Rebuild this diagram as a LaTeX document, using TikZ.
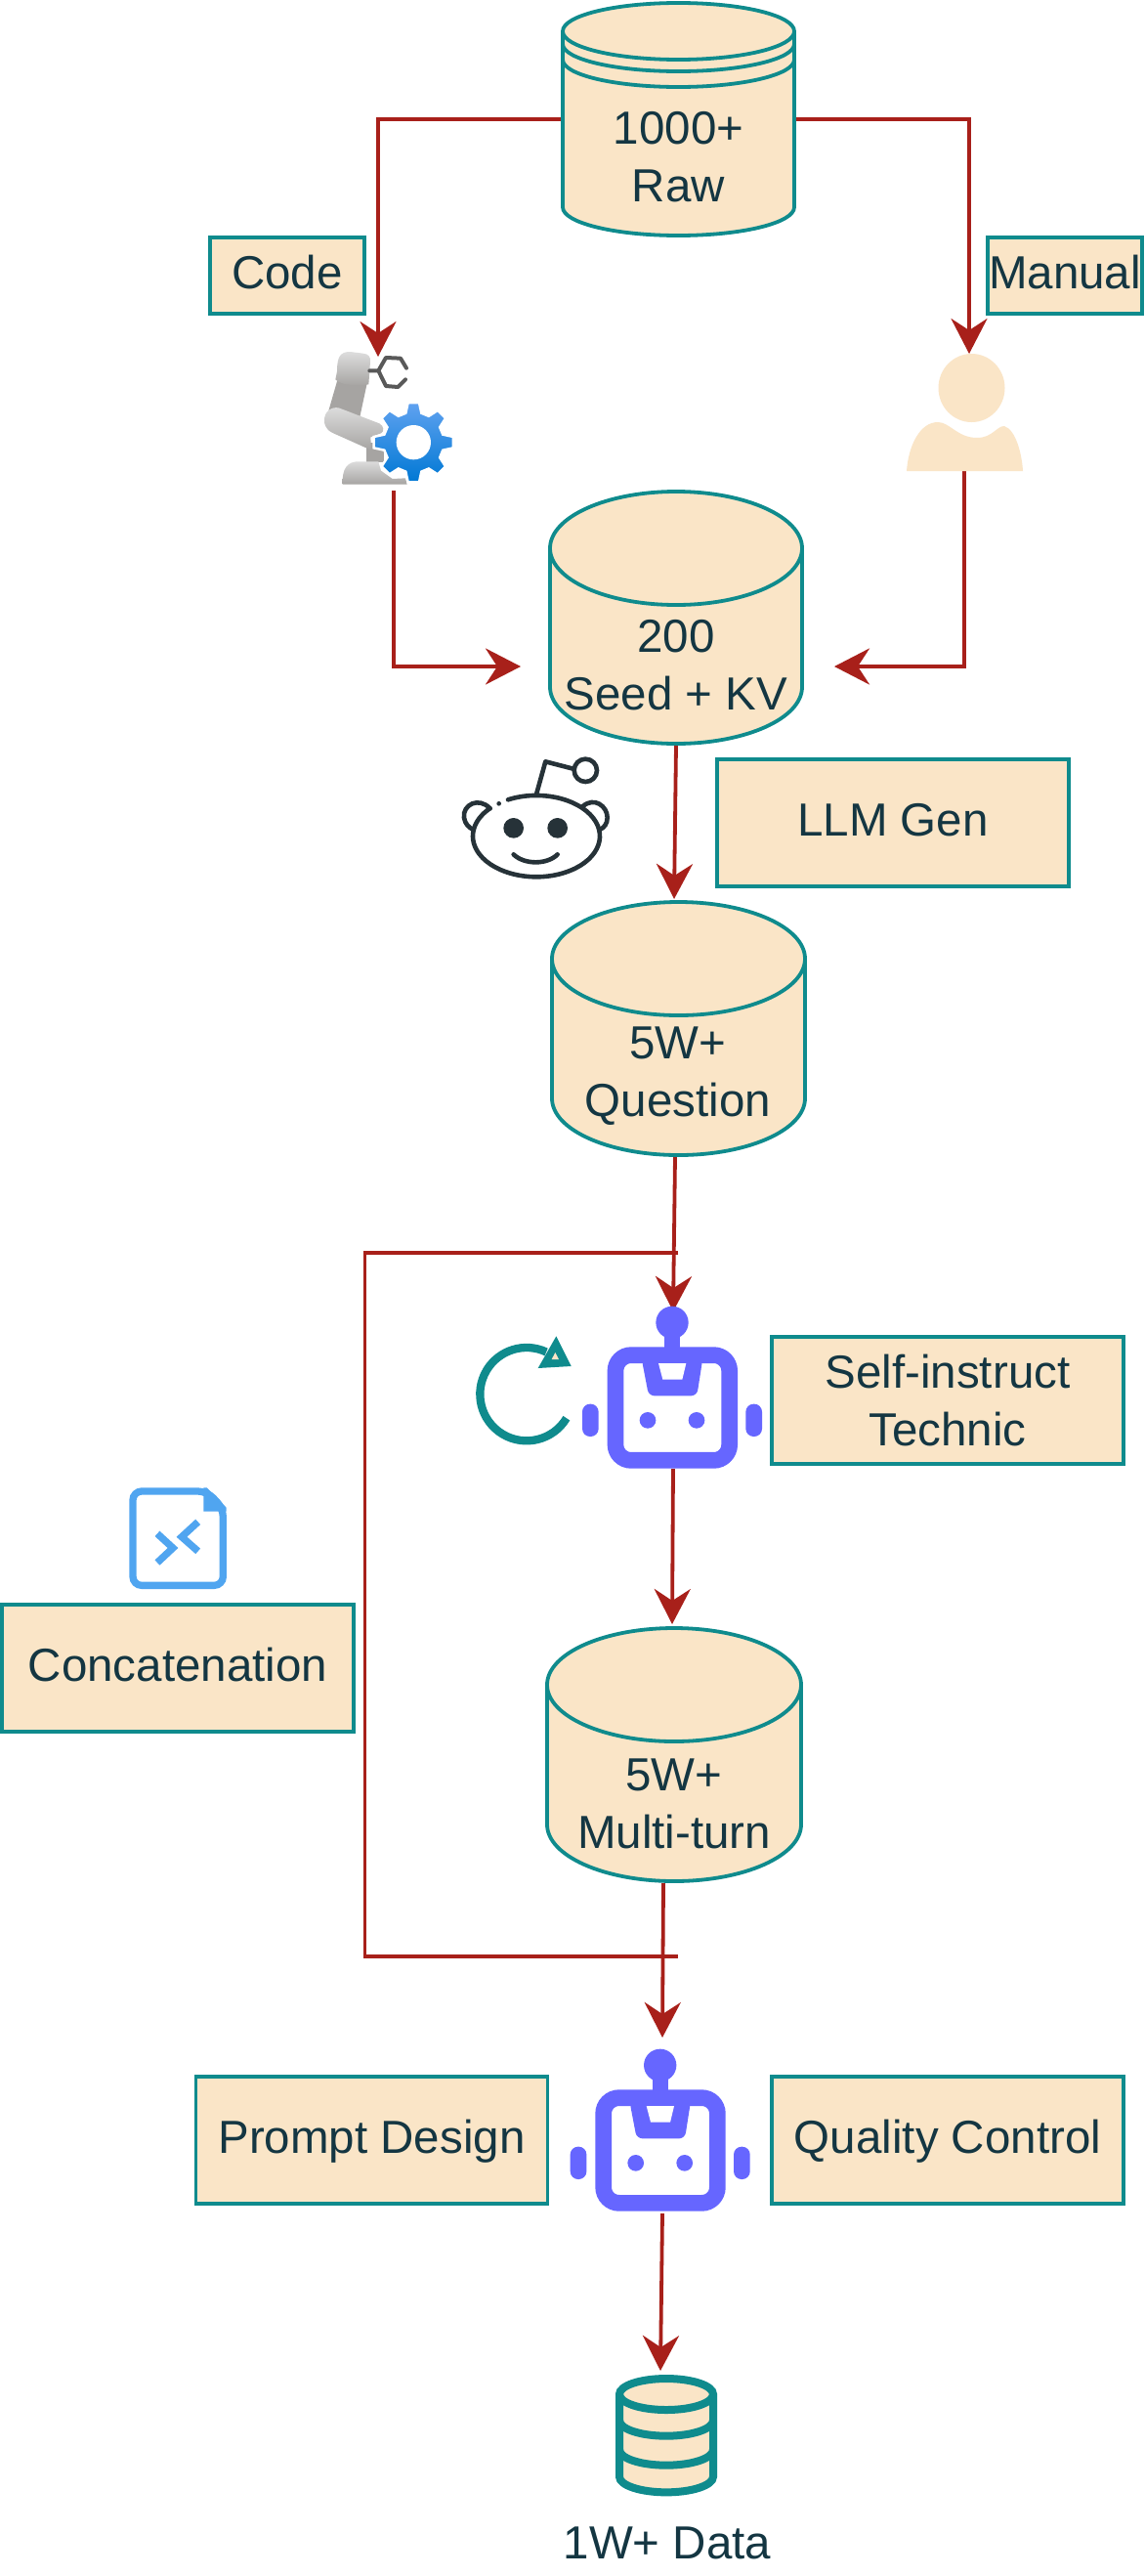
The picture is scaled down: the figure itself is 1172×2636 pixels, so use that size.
\documentclass[tikz,border=0pt]{standalone}
\usepackage{fontspec}
\setmainfont{Liberation Sans}
\usetikzlibrary{arrows.meta,calc}
\definecolor{sandfill}{HTML}{FAE5C7}
\definecolor{tealline}{HTML}{0F8B8D}
\definecolor{inkc}{HTML}{143642}
\definecolor{edgered}{HTML}{A8201A}
\definecolor{botblue}{HTML}{6666FF}
\definecolor{fileblue}{HTML}{50A5F0}
\definecolor{redditc}{HTML}{263238}
\definecolor{armlight}{HTML}{DDDDDD}
\definecolor{armdark}{HTML}{A6A4A2}
\tikzset{
  txt/.style={text=inkc,font=\fontsize{47.5}{59}\selectfont,align=center,inner sep=0pt,outer sep=0pt},
  boxn/.style={txt,draw=tealline,fill=sandfill,line width=3.8pt},
  oneline/.style={text height=38pt,text depth=12pt},
  anchorbox/.style={inner sep=0pt,outer sep=0pt,minimum width=#1},
  anchorbox/.default=10pt,
  link/.style={draw=edgered,line width=3.8pt},
  arrowlink/.style={link,-{Stealth[length=36pt,width=37pt,inset=12pt]}},
  cylstyle/.style={draw=tealline,fill=sandfill,line width=3.8pt},
}
% cylinder body: cx, top, width, height, ry
\newcommand{\cylbody}[5]{%
  \pgfmathsetmacro{\cxl}{#1-#3/2}%
  \pgfmathsetmacro{\cxr}{#1+#3/2}%
  \pgfmathsetmacro{\cyt}{#2+#5}%
  \pgfmathsetmacro{\cyb}{#2+#4-#5}%
  \pgfmathsetmacro{\crx}{#3/2}%
  \path[cylstyle] (\cxl,\cyt) -- (\cxl,\cyb) arc[start angle=180,end angle=360,x radius=\crx pt,y radius=#5pt]
     -- (\cxr,\cyt) arc[start angle=0,end angle=180,x radius=\crx pt,y radius=#5pt] -- cycle;
  \draw[tealline,line width=3.8pt] (\cxl,\cyt) arc[start angle=180,end angle=360,x radius=\crx pt,y radius=#5pt];
}
\newcommand{\robotart}[2]{%
  \begin{scope}[shift={(#1,#2)},scale=0.33333]
    \fill[botblue] (684,130) circle[radius=50pt];
    \fill[botblue] (660,160) rectangle (708,230);
    \draw[botblue,line width=16.7pt,rounded corners=16pt] (510,230) rectangle (860,553);
    \fill[botblue,rounded corners=6pt] (590,240) -- (612,355) -- (760,355) -- (778,240) -- cycle;
    \fill[white] (642,255) -- (727,255) -- (715,305) -- (655,305) -- cycle;
    \fill[botblue] (609,430) circle[radius=25pt];
    \fill[botblue] (759,430) circle[radius=25pt];
    \fill[botblue,rounded corners=8pt] (408,380) rectangle (458,480);
    \fill[botblue,rounded corners=8pt] (910,380) rectangle (960,480);
  \end{scope}
}
\begin{document}
\begin{tikzpicture}[x=1pt,y=-1pt]
\useasboundingbox (0,0) rectangle (1172,2636);
\fill[white] (0,0) rectangle (1172,2636);

% --- anchors for icons and cylinders
\node[anchorbox=262pt,minimum height=262pt] (seed) at (692,632) {};
\node[anchorbox=241pt,minimum height=242pt] (raw) at (694.5,122) {};
\node[anchorbox=263pt,minimum height=263pt] (question) at (694.5,1052.5) {};
\node[anchorbox=263pt,minimum height=263pt] (multi) at (690,1795.5) {};
\node[anchorbox=130pt,minimum height=135pt] (arm) at (387,432.5) {};
\node[anchorbox=120pt,minimum height=120pt] (person) at (992,422) {};
\node[anchorbox=230pt,minimum height=161pt] (bot1) at (689,1422.5) {};
\node[anchorbox=230pt,minimum height=180pt] (bot2) at (678,2175) {};
\node[anchorbox=100pt,minimum height=124pt] (dbicon) at (676,2488) {};
\coordinate (armout) at (403,502);
\coordinate (seedl) at (533,682);
\coordinate (seedr) at (854,682);
\coordinate (personout) at (987,482);
\coordinate (fb1) at (694,1282);
\coordinate (fb2) at (373.5,1282);
\coordinate (fb3) at (373.5,2002);
\coordinate (fb4) at (694,2002);

% --- cylinders
\cylbody{694.5}{3}{237}{238}{29}
\draw[tealline,line width=3.8pt] (576,45) arc[start angle=180,end angle=360,x radius=118.5pt,y radius=28pt];
\draw[tealline,line width=3.8pt] (576,61) arc[start angle=180,end angle=360,x radius=118.5pt,y radius=28pt];
\cylbody{692}{503}{258}{258}{58}
\cylbody{694.5}{923}{259}{259}{58}
\cylbody{690}{1666}{260}{259}{58}
\node[txt] (rawt) at (694.5,161) {1000+\\Raw};
\node[txt] (seedt) at (692,681) {200\\Seed + KV};
\node[txt] (questiont) at (694,1101.5) {5W+\\Question};
\node[txt] (multit) at (690,1846) {5W+\\Multi-turn};

% --- connectors
\draw[arrowlink] (raw.west) -| (387,365);
\draw[arrowlink] (raw.east) -| (992,362);
\draw[arrowlink] (armout) |- (seedl);
\draw[arrowlink] (personout) |- (seedr);
\draw[arrowlink] (seed.south) -- ([xshift=-4.5pt,yshift=1pt]question.north);
\draw[link] (fb1) -- (fb2) -- (fb3) -- (fb4);
\draw[arrowlink] ([xshift=-3.5pt]question.south) -- (bot1.north);
\draw[arrowlink] (bot1.south) -- ([xshift=-2pt,yshift=2pt]multi.north);
\draw[arrowlink] ([xshift=-11pt]multi.south) -- (bot2.north);
\draw[arrowlink] (bot2.south) -- (dbicon.north);

% --- boxes
\node[boxn,oneline,minimum width=158pt,minimum height=78pt] (code) at (294,282) {Code};
\node[boxn,oneline,minimum width=158pt,minimum height=78pt] (manual) at (1090,282) {Manual};
\node[boxn,oneline,minimum width=360pt,minimum height=130pt] (llm) at (914,842) {LLM Gen};
\node[boxn,minimum width=360pt,minimum height=130pt] (selfi) at (970,1433) {Self-instruct\\Technic};
\node[boxn,oneline,minimum width=360pt,minimum height=130pt] (concat) at (182,1707) {Concatenation};
\node[boxn,oneline,minimum width=360pt,minimum height=130pt] (prompt) at (380.5,2190) {Prompt Design};
\node[boxn,oneline,minimum width=360pt,minimum height=130pt] (quality) at (970,2190) {Quality Control};
\node[txt] (outt) at (683,2602) {1W+ Data};

% --- robot arm icon
\begin{scope}[shift={(300,330)},scale=0.33333]
  \fill[armdark] (138,170) -- (105,285) -- (205,290) -- (235,150) -- cycle;
  \shade[top color=armlight,bottom color=armdark] (135,150) .. controls (135,105) and (145,90) .. (175,90) -- (215,95) .. controls (232,97) and (238,105) .. (237,120) -- (232,190) .. controls (200,195) and (150,195) .. (130,175) -- cycle;
  \draw[color=black!65,line width=4pt,line join=round,line cap=round] (235,148) -- (262,148) -- (285,108) -- (330,110) -- (348,140) (262,148) -- (285,195) -- (322,198) -- (345,175);
  \fill[armdark] (225,370) rectangle (278,430);
  \shade[top color=armlight,bottom color=armdark] (96,300) .. controls (96,275) and (115,258) .. (140,262) -- (265,310) .. controls (280,318) and (280,335) .. (270,340) -- (238,352) -- (240,392) -- (135,345) .. controls (110,335) and (96,325) .. (96,300) -- cycle;
  \shade[top color=armlight,bottom color=armdark] (152,497) .. controls (150,450) and (165,425) .. (205,427) -- (262,427) -- (270,455) -- (305,480) -- (345,478) -- (350,497) -- cycle;
  \begin{scope}
    \clip (200,200) rectangle (520,497);
    \shade[top color={rgb,255:red,96;green,162;blue,240},bottom color={rgb,255:red,0;green,120;blue,212},draw=white,line width=2.5pt]
      ($(370,368)+(98:123pt)$)
      \foreach \a in {90,45,0,-45,-90,-135,-180,-225} { -- ($(370,368)+(\a-8:123pt)$) -- ($(370,368)+(\a-15:93pt)$) -- ($(370,368)+(\a-30:93pt)$) -- ($(370,368)+(\a-37:123pt)$) } -- cycle;
  \end{scope}
  \fill[white] (370,368) circle[radius=53pt];
\end{scope}

% --- person icon
\fill[sandfill] (994.5,397) ellipse[x radius=34pt,y radius=35pt];
\fill[sandfill] (928,482) .. controls (930,455) and (942,432) .. (960,432) .. controls (972,432) and (980,448) .. (1000,448) .. controls (1016,448) and (1020,436) .. (1028,436) .. controls (1040,440) and (1046,465) .. (1047,482) -- cycle;

% --- reddit icon
\begin{scope}[shift={(440,740)},scale=0.33333,redditc,line width=4.6pt,line cap=round]
  \draw (240,235) arc[start angle=116.5,end angle=-223,x radius=195pt,y radius=125pt];
  \draw (185,262) .. controls (150,225) and (100,250) .. (105,290) .. controls (108,310) and (120,320) .. (133,327);
  \draw (470,255) .. controls (505,225) and (545,255) .. (545,290) .. controls (545,310) and (535,320) .. (522,327);
  \fill (212,247) circle[radius=7pt];
  \fill (257,322) circle[radius=31pt];
  \fill (392,322) circle[radius=31pt];
  \draw (257,403) .. controls (290,435) and (360,435) .. (392,403);
  \draw[line join=round] (328,215) -- (355,118) -- (440,140);
  \draw (478,145) circle[radius=35pt];
\end{scope}

% --- robots
\robotart{460}{1310}
\robotart{447.7}{2070}

% --- loop icon
\begin{scope}[shift={(460,1310)},scale=0.33333]
  \draw[tealline,line width=8.3pt] (359.6,423.6) arc[start angle=-31,end angle=-295,radius=143pt];
  \fill[tealline] (328,172) -- (374,264) -- (272,270) -- cycle;
  \fill[sandfill] (314,243) -- (336,243) -- (325,222) -- cycle;
\end{scope}

% --- file icon
\begin{scope}[shift={(100,1500)},scale=0.33333]
  \draw[fileblue,line width=7.3pt,rounded corners=9pt] (108,78) -- (335,78) -- (385,130) -- (385,367) -- (108,367) -- cycle;
  \fill[fileblue] (325,67) -- (335,67) -- (395,128) -- (395,140) -- (325,140) -- cycle;
  \draw[fileblue,line width=7.3pt] (183,208) -- (231,252) -- (183,297);
  \draw[fileblue,line width=7.3pt] (308,172) -- (258,218) -- (308,262);
\end{scope}

% --- database icon
\begin{scope}[shift={(560,2420)},scale=0.33333]
  \path[fill=sandfill,draw=tealline,line width=8pt] (222,90) -- (222,343) arc[start angle=180,end angle=360,x radius=144pt,y radius=48pt] -- (510,90) arc[start angle=0,end angle=180,x radius=144pt,y radius=48pt] -- cycle;
  \draw[tealline,line width=8pt] (222,90) arc[start angle=180,end angle=360,x radius=144pt,y radius=48pt];
  \draw[tealline,line width=8pt] (222,170) arc[start angle=180,end angle=360,x radius=144pt,y radius=48pt];
  \draw[tealline,line width=8pt] (222,260) arc[start angle=180,end angle=360,x radius=144pt,y radius=48pt];
\end{scope}
\end{tikzpicture}
\end{document}
